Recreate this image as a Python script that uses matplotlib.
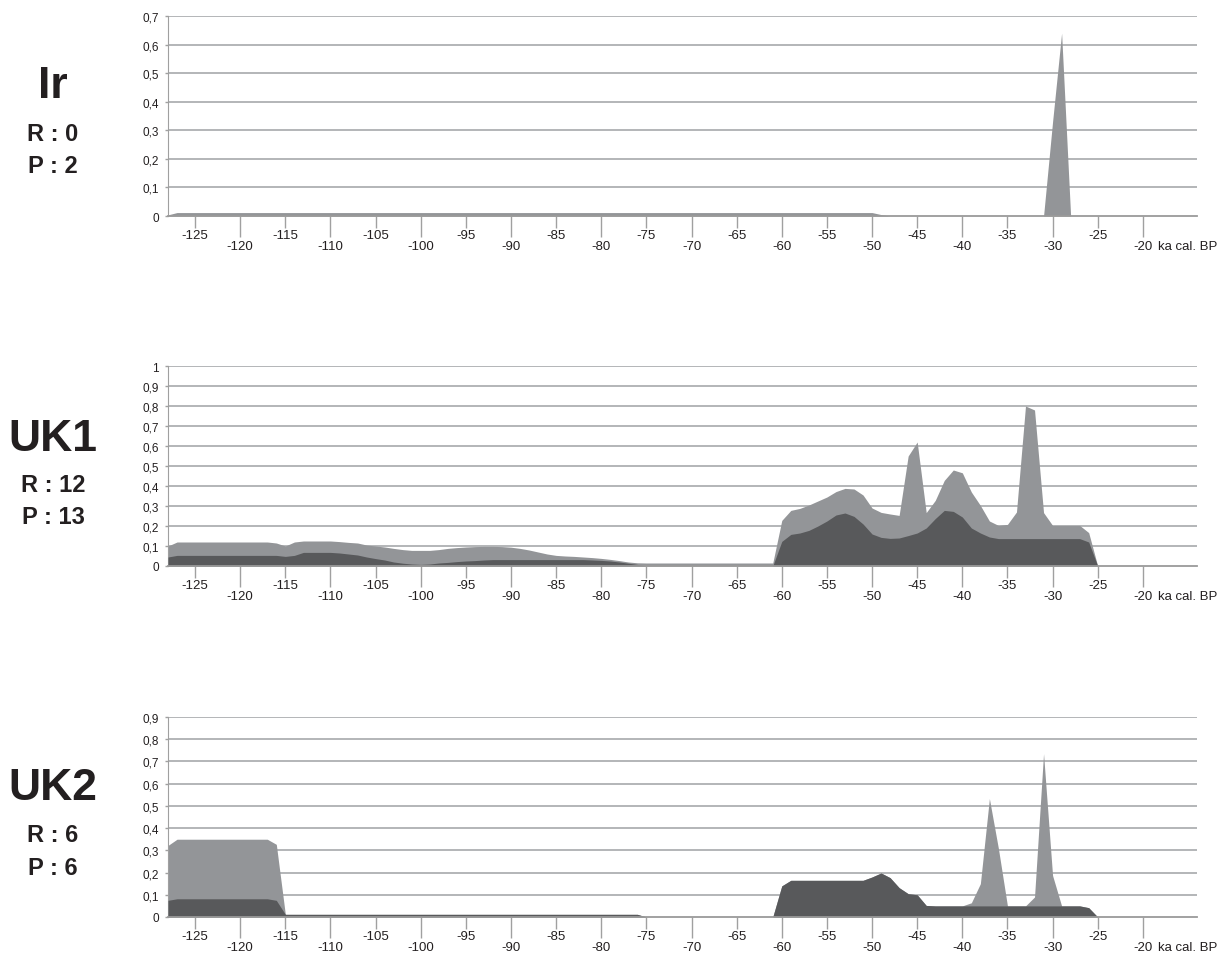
"""
Stacked density strips: Ir, UK1, UK2
"""

import numpy as np
import matplotlib
matplotlib.use("Agg")
from matplotlib import pyplot as plt
from matplotlib.ticker import FixedLocator, FuncFormatter

plt.rcParams["font.family"] = ["Liberation Sans", "DejaVu Sans"]

# ka cal. BP, one value per ka
years = np.arange(-128, -19)

# Ir (R : 0, P : 2) - only the light series
ir_light = ([0.004] + [0.012] * 9 +          # -128..-119
            [0.012] * 60 +                   # -118..-59
            [0.012] * 9 + [0.005] +          # -58..-49
            [0.0] * 10 +                     # -48..-39
            [0.0] * 8 + [0.33, 0.64] +       # -38..-29
            [0.0] * 9)                       # -28..-20

# UK1 (R : 12, P : 13)
uk1_light = ([0.10] + [0.12] * 9 +
             [0.12, 0.12, 0.115, 0.10, 0.12, 0.125, 0.125, 0.125, 0.125, 0.122] +
             [0.118, 0.115, 0.105, 0.10, 0.095, 0.088, 0.082, 0.078, 0.078, 0.078] +
             [0.082, 0.088, 0.092, 0.095, 0.097, 0.098, 0.098, 0.097, 0.094, 0.088] +
             [0.08, 0.07, 0.06, 0.053, 0.05, 0.048, 0.045, 0.042, 0.038, 0.033] +
             [0.027, 0.02, 0.016, 0.015] + [0.015] * 6 +
             [0.015] * 8 + [0.228, 0.278] +
             [0.288, 0.305, 0.325, 0.345, 0.372, 0.388, 0.385, 0.355, 0.29, 0.268] +
             [0.26, 0.253, 0.55, 0.62, 0.267, 0.328, 0.428, 0.48, 0.466, 0.37] +
             [0.303, 0.225, 0.203, 0.208, 0.27, 0.80, 0.78, 0.267, 0.203, 0.203] +
             [0.203, 0.203, 0.167, 0.0] + [0.0] * 5)

uk1_dark = ([0.045] + [0.053] * 9 +
            [0.053, 0.053, 0.053, 0.048, 0.053, 0.068, 0.068, 0.068, 0.068, 0.065] +
            [0.06, 0.055, 0.045, 0.037, 0.03, 0.02, 0.014, 0.01, 0.008, 0.01] +
            [0.015, 0.018, 0.022, 0.025, 0.027, 0.03, 0.032, 0.032, 0.032, 0.032] +
            [0.032] * 7 + [0.03, 0.028, 0.025] +
            [0.02, 0.014, 0.008, 0.0] + [0.0] * 6 +
            [0.0] * 8 + [0.123, 0.158] +
            [0.165, 0.178, 0.2, 0.225, 0.255, 0.265, 0.248, 0.21, 0.16, 0.143] +
            [0.138, 0.14, 0.152, 0.165, 0.19, 0.237, 0.278, 0.273, 0.245, 0.19] +
            [0.165, 0.145, 0.137] + [0.137] * 7 +
            [0.137, 0.137, 0.12, 0.0] + [0.0] * 5)

# UK2 (R : 6, P : 6)
uk2_light = ([0.322] + [0.35] * 9 +
             [0.35, 0.35, 0.327, 0.012] + [0.012] * 6 +
             [0.012] * 30 +
             [0.012, 0.012, 0.012, 0.0] + [0.0] * 6 +
             [0.0] * 8 + [0.14, 0.165] +
             [0.165] * 8 + [0.18, 0.198] +
             [0.177, 0.132, 0.105, 0.10, 0.052, 0.05, 0.05, 0.05, 0.05, 0.064] +
             [0.15, 0.533, 0.308, 0.05, 0.05, 0.05, 0.09, 0.735, 0.187, 0.05] +
             [0.05, 0.05, 0.042, 0.0] + [0.0] * 5)

uk2_dark = ([0.075] + [0.082] * 9 +
            [0.082, 0.082, 0.075, 0.012] + [0.012] * 6 +
            [0.012] * 30 +
            [0.012, 0.012, 0.012, 0.0] + [0.0] * 6 +
            [0.0] * 8 + [0.14, 0.165] +
            [0.165] * 8 + [0.18, 0.198] +
            [0.177, 0.132, 0.105, 0.10, 0.052, 0.05, 0.05, 0.05, 0.05, 0.05] +
            [0.05] * 10 +
            [0.05, 0.05, 0.042, 0.0] + [0.0] * 5)

panels = [
    ("Ir", "R : 0", "P : 2", ir_light, None, 0.7),
    ("UK1", "R : 12", "P : 13", uk1_light, uk1_dark, 1.0),
    ("UK2", "R : 6", "P : 6", uk2_light, uk2_dark, 0.9),
]

LIGHT = "#939598"
DARK = "#58595b"
GRID = "#a7a9ac"
TEXT = "#231f20"

W, H = 1231, 954
fig = plt.figure(figsize=(W / 100, H / 100), dpi=100)

# axis rectangles in pixels: (top, bottom)
rows = [(17, 217), (367, 567), (718, 918)]
label_y = [(98, 141, 173), (451, 492, 524), (800, 842, 875)]
left, right = 168, 1197


def fmt_y(v, pos):
    if abs(v) < 1e-9:
        return "0"
    if abs(v - 1) < 1e-9:
        return "1"
    return f"{v:.1f}".replace(".", ",")


for (name, rtxt, ptxt, light, dark, ymax), (top, bot), ly in zip(panels, rows, label_y):
    ax = fig.add_axes([left / W, 1 - bot / H, (right - left) / W, (bot - top) / H])
    ax.fill_between(years, 0, light, color=LIGHT, lw=0, zorder=2)
    if dark is not None:
        ax.fill_between(years, 0, dark, color=DARK, lw=0, zorder=3)

    ax.set_xlim(-128, -14)
    ax.set_ylim(0, ymax)

    yt = np.round(np.arange(0, ymax + 0.001, 0.1), 1)
    ax.set_yticks(yt)
    ax.yaxis.set_major_formatter(FuncFormatter(fmt_y))
    for v in yt[1:]:
        ax.axhline(v, color=GRID, lw=1.2, zorder=1)

    ax.xaxis.set_major_locator(FixedLocator(np.arange(-120, -19, 10)))
    ax.xaxis.set_minor_locator(FixedLocator(np.arange(-125, -24, 10)))
    ax.xaxis.set_major_formatter(FuncFormatter(lambda v, p: f"{int(v)}"))
    ax.xaxis.set_minor_formatter(FuncFormatter(lambda v, p: f"{int(v)}"))

    ax.tick_params(axis="x", which="major", length=15, width=1, color="#a0a0a0",
                   pad=2.2, labelsize=9.5, labelcolor=TEXT)
    ax.tick_params(axis="x", which="minor", length=8.5, width=1, color="#a0a0a0",
                   pad=1.2, labelsize=9.5, labelcolor=TEXT)
    ax.tick_params(axis="y", length=2.5, width=1, color="#a0a0a0", pad=4,
                   labelsize=8.5, labelcolor=TEXT)

    for s in ("top", "right"):
        ax.spines[s].set_visible(False)
    ax.spines["left"].set_color("#a0a0a0")
    ax.spines["bottom"].set_color("#9a9a9a")
    ax.spines["bottom"].set_linewidth(1.3)
    ax.spines["bottom"].set_zorder(4)

    ax.annotate("ka cal. BP", xy=(-20, 0), xycoords=("data", "axes fraction"),
                xytext=(11, -21.5), textcoords="offset points",
                ha="left", va="center", fontsize=9.5, color=TEXT)

    fig.text(53 / W, 1 - ly[0] / H, name, ha="center", va="baseline",
             fontsize=32, fontweight="bold", color=TEXT)
    fig.text(53 / W, 1 - ly[1] / H, rtxt, ha="center", va="baseline",
             fontsize=17, fontweight="bold", color=TEXT)
    fig.text(53 / W, 1 - ly[2] / H, ptxt, ha="center", va="baseline",
             fontsize=17, fontweight="bold", color=TEXT)

fig.savefig("out.png", dpi=100)
